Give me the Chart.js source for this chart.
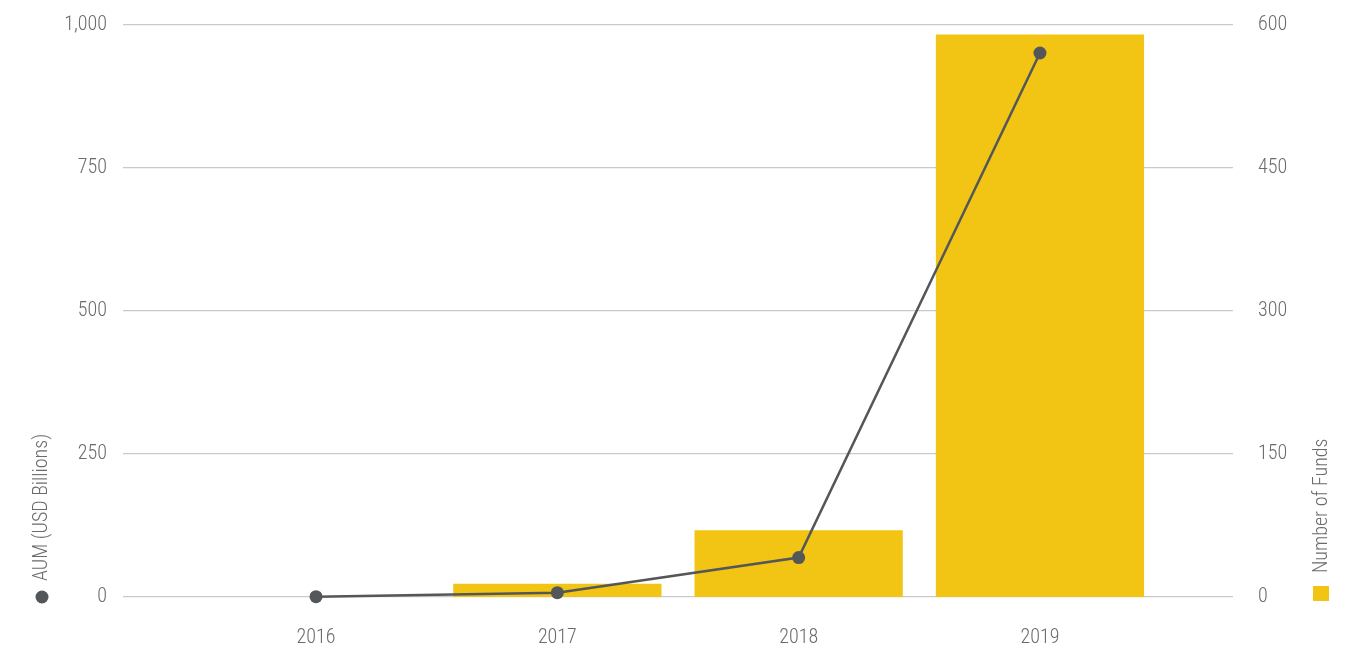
<!DOCTYPE html>
<html>
<head>
<meta charset="utf-8">
<script src="https://cdn.jsdelivr.net/npm/chart.js@4"></script>
<style>
  html, body { margin: 0; padding: 0; background: #fff; }
  #wrap { width: 1359px; height: 646px; }
</style>
</head>
<body>
<div id="wrap"><canvas id="fundsChart"></canvas></div>
<script>
// data
const years = [2016, 2017, 2018, 2019];
const aum = [0.5, 7.5, 69, 951];          // left axis, USD billions (line)
const funds = [0, 14, 70, 590];           // right axis, number of funds (bars)
const aumTicks = [0, 250, 500, 750, 1000];
const fundTicks = [0, 150, 300, 450, 600];

const FONT = '"Roboto Condensed", "Liberation Sans Narrow", "DejaVu Sans Condensed", Roboto, sans-serif';
const GREY = '#54575a';
const GOLD = '#f2c414';
const TEXT = '#6b6b6b';
const tickFont = { family: FONT, size: 20, style: 'condensed', weight: 300 };

// side titles with their little markers, anchored at the bottom like the original
const sideTitles = {
    id: 'sideTitles',
    afterDraw(chart) {
        const ctx = chart.ctx;
        const bottom = chart.chartArea.bottom;
        ctx.save();
        ctx.font = 'condensed 300 20px ' + FONT;
        ctx.fillStyle = TEXT;
        ctx.textAlign = 'left';
        ctx.textBaseline = 'middle';

        ctx.save();
        ctx.translate(42, bottom - 16);
        ctx.rotate(-Math.PI / 2);
        ctx.fillText('AUM (USD Billions)', 0, 0);
        ctx.restore();

        ctx.save();
        ctx.translate(1322, bottom - 24);
        ctx.rotate(-Math.PI / 2);
        ctx.fillText('Number of Funds', 0, 0);
        ctx.restore();

        ctx.fillStyle = GREY;
        ctx.beginPath();
        ctx.arc(42, bottom, 6.5, 0, Math.PI * 2);
        ctx.fill();

        ctx.fillStyle = GOLD;
        ctx.fillRect(1313, bottom - 11, 16, 15);
        ctx.restore();
    }
};

// keep the axes from pushing the plot area down
const fixY = w => s => { s.width = w; s.paddingTop = 0; s.paddingBottom = 0; };

const ctx = document.getElementById('fundsChart').getContext('2d');
const fundsChart = new Chart(ctx, {
    data: {
        datasets: [{
            type: 'line',
            label: 'AUM (USD Billions)',
            data: years.map((y, i) => ({x: y, y: aum[i]})),
            yAxisID: 'y',
            borderColor: GREY,
            backgroundColor: GREY,
            borderWidth: 2.5,
            pointRadius: 6.5,
            pointBackgroundColor: GREY,
            pointBorderWidth: 0,
            tension: 0,
            clip: false,
            order: 1
        }, {
            type: 'bar',
            label: 'Number of Funds',
            data: years.map((y, i) => ({x: y, y: funds[i]})),
            yAxisID: 'y1',
            backgroundColor: GOLD,
            borderWidth: 0,
            categoryPercentage: 1,
            barPercentage: 0.863,
            order: 2
        }]
    },
    options: {
        responsive: true,
        maintainAspectRatio: false,
        animation: false,
        layout: { padding: { top: 25, left: 0, right: 0, bottom: 0 } },
        plugins: {
            legend: { display: false },
            tooltip: { enabled: false }
        },
        scales: {
            x: {
                type: 'linear',
                offset: false,
                min: 2015.2,
                max: 2019.8,
                grid: { display: false },
                border: { display: false },
                ticks: {
                    stepSize: 1,
                    includeBounds: false,
                    padding: 21,
                    color: TEXT,
                    font: tickFont,
                    callback: v => String(v)
                },
                afterFit: s => { s.height = 49; }
            },
            y: {
                position: 'left',
                min: 0,
                max: 1000,
                afterBuildTicks: s => { s.ticks = aumTicks.map(v => ({value: v})); },
                grid: { color: '#c9c9c9', lineWidth: 1.3, drawTicks: false },
                border: { display: false },
                ticks: {
                    padding: 16,
                    color: TEXT,
                    font: tickFont,
                    callback: v => v.toLocaleString('en-US')
                },
                afterFit: fixY(123)
            },
            y1: {
                position: 'right',
                min: 0,
                max: 600,
                afterBuildTicks: s => { s.ticks = fundTicks.map(v => ({value: v})); },
                grid: { display: false, drawTicks: false },
                border: { display: false },
                ticks: {
                    padding: 25,
                    color: TEXT,
                    font: tickFont
                },
                afterFit: fixY(126)
            }
        }
    },
    plugins: [sideTitles]
});
</script>
</body>
</html>
